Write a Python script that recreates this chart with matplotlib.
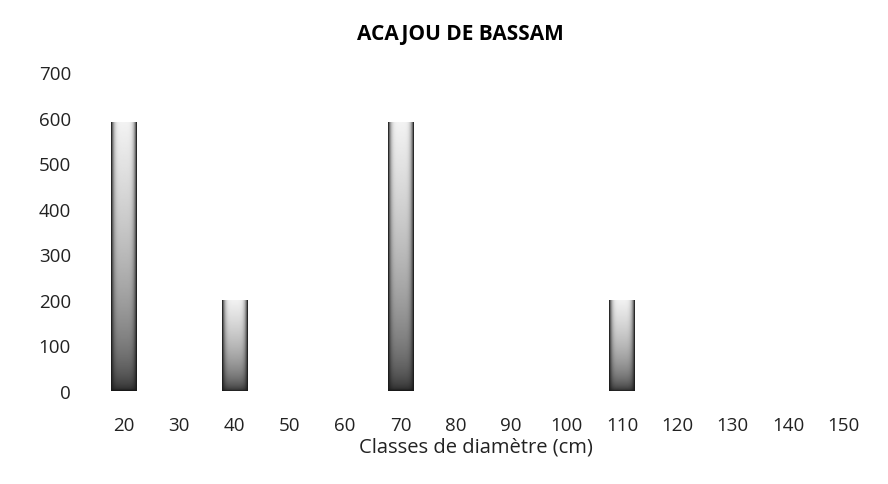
import matplotlib.pyplot as plt
import numpy as np

plt.rcParams['font.family'] = ['Open Sans', 'DejaVu Sans']

# Data
classes = ['20', '30', '40', '50', '60', '70', '80', '90', '100', '110',
           '120', '130', '140', '150']
effectifs = [590, 0, 200, 0, 0, 590, 0, 0, 0, 200, 0, 0, 0, 0]

title = 'ACAJOU DE BASSAM'
xlabel = 'Classes de diamètre (cm)'


def shade(nx=40, ny=200):
    """gray gradient: dark edges, darker bottom, light centre near the top"""
    u = np.linspace(-1, 1, nx)[None, :]
    v = np.linspace(0, 1, ny)[:, None]
    edge = np.abs(u) ** 5
    val = 0.1 + 0.85 * v ** 0.45 * (1 - edge)
    return np.clip(val, 0, 1)


fig = plt.figure(figsize=(8.88, 4.85), dpi=100)
ax = fig.add_axes([0.108, 0.1918, 0.873, 0.6577])

x = np.arange(len(classes))
bars = ax.bar(x, effectifs, width=0.46, color='none', edgecolor='none')
for b in bars:
    h = b.get_height()
    if h <= 0:
        continue
    x0 = b.get_x()
    w = b.get_width()
    im = ax.imshow(shade(), cmap='gray', vmin=0, vmax=1, origin='lower',
                   extent=[x0, x0 + w, 0, h], aspect='auto',
                   interpolation='bilinear', zorder=2)
    im.set_clip_path(b)

ax.set_xlim(-0.5, len(classes) - 0.5)
ax.set_ylim(0, 700)
ax.set_yticks(range(0, 701, 100))
ax.set_xticks(x)
ax.set_xticklabels(classes)

for s in ax.spines.values():
    s.set_visible(False)
ax.tick_params(axis='both', length=0, labelsize=13.5, colors='#222222')
ax.tick_params(axis='y', pad=18)
ax.tick_params(axis='x', pad=18)

ax.set_title(title, fontsize=15, fontweight='bold', pad=24, x=0.47)
ax.set_xlabel(xlabel, fontsize=14.5, color='#222222', labelpad=2, x=0.49)

fig.savefig('out.png', dpi=100)
